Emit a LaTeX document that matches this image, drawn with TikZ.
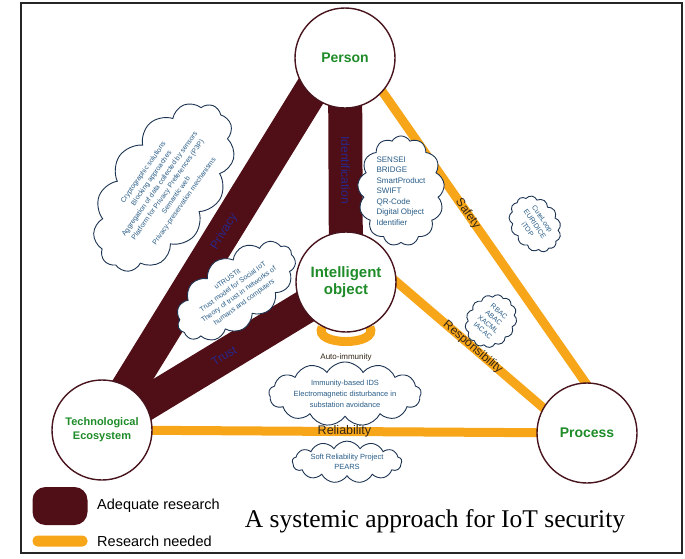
\documentclass[tikz,border=0pt]{standalone}
\usepackage{fontspec}
\setmainfont{Liberation Sans}
\newfontfamily\titlefont{Liberation Serif}
\usetikzlibrary{arrows.meta, positioning, shapes.symbols, backgrounds}
\definecolor{maroonbar}{RGB}{80,14,22}
\definecolor{orangebar}{RGB}{247,166,26}
\definecolor{rimcol}{RGB}{72,20,30}
\definecolor{nodegreen}{RGB}{30,140,40}
\definecolor{cloudline}{RGB}{28,52,82}
\definecolor{cloudtext}{RGB}{40,92,135}
\definecolor{labelblue}{RGB}{40,40,140}
\definecolor{labeldark}{RGB}{50,36,20}

\begin{document}
\begin{tikzpicture}[x=1pt, y=1pt]
    \tikzstyle{vertex} = [shape=circle, fill=white, draw=rimcol, line width=1.4pt, minimum size=100pt, inner sep=1pt, text=nodegreen, align=center];
    \tikzstyle{adequate} = [draw=maroonbar, line width=34pt];
    \tikzstyle{needed} = [draw=orangebar, line width=9pt];
    \tikzstyle{note} = [cloud, cloud puffs=13, cloud puff arc=120, cloud ignores aspect, draw=cloudline, line width=0.9pt, fill=white, text=cloudtext, align=center, inner sep=2pt];
    \tikzstyle{bluetag} = [text=labelblue, font=\fontsize{12}{12}\selectfont, sloped];
    \tikzstyle{darktag} = [text=labeldark, font=\fontsize{12}{12}\selectfont, sloped];

    \useasboundingbox (0,0) rectangle (685,-558);
    \draw[line width=1.5pt, black!85] (21,-3) rectangle (682,-553);

    \node[vertex, font=\fontsize{14}{14}\bfseries](person) at (345,-58) {Person};
    \node[vertex, font=\fontsize{15}{17}\bfseries](intel) at (346,-282) {Intelligent\\object};
    \node[vertex, font=\fontsize{11}{14}\bfseries](tech) at (102,-430) {Technological\\Ecosystem};
    \node[vertex, font=\fontsize{14}{14}\bfseries](proc) at (587,-433) {Process};

    \begin{pgfonlayer}{background}
        \draw[adequate, shorten >=-14pt] (tech.center) -- node[bluetag, pos=0.59]{Privacy} (person.-135);
        \draw[adequate] (person.center) -- node[bluetag, pos=0.5]{Identification} (intel.center);
        \draw[adequate] (tech.center) -- node[bluetag, pos=0.5]{Trust} (intel.center);
        \draw[needed, shorten <=-8pt, shorten >=-8pt] (person.-42) -- node[darktag, pos=0.42]{Safety} (proc.92);
        \draw[needed, shorten <=-8pt, shorten >=-8pt] (intel.0) -- node[darktag, pos=0.52]{Responsibility} (proc.150);
        \draw[needed] (tech.center) -- node[darktag, font=\fontsize{12.5}{12.5}\selectfont]{Reliability} (proc.center);
        \path (intel) edge[needed, out=-118, in=-62, looseness=1.2] node[below=4.5pt, text=labeldark, font=\fontsize{8}{8}\selectfont]{Auto-immunity} (intel);
    \end{pgfonlayer}

    \node[note, rotate=55, font=\fontsize{7}{10}\selectfont](privnote) at (164,-187) {Cryptographic solutions\\Blocking approaches\\Aggregation of data collected by sensors\\Platform for Privacy Preferences (P3P)\\Semantic web\\Privacy-preservation mechanisms};
    \node[note, align=left, font=\fontsize{8}{10.5}\selectfont](idnote) at (401,-191) {SENSEI\\BRIDGE\\SmartProduct\\SWIFT\\QR-Code\\Digital Object\\Identifier};
    \node[note, rotate=36, font=\fontsize{7}{9.5}\selectfont](trustnote) at (236,-291) {uTRUSTit\\Trust model for Social IoT\\Theory of trust in networks of\\humans and computers};
    \node[note, font=\fontsize{7.5}{11}\selectfont](immnote) at (345,-394) {Immunity-based IDS\\Electromagnetic disturbance in\\substation avoidance};
    \node[note, font=\fontsize{7.5}{10}\selectfont](relnote) at (347,-462) {Soft Reliability Project\\PEARS};
    \node[note, rotate=-55, inner sep=3pt, font=\fontsize{7}{9}\selectfont](safenote) at (535,-224) {CuteLoop\\EURIDICE\\iTOP};
    \node[note, rotate=-40, inner sep=3pt, font=\fontsize{7}{8.5}\selectfont](respnote) at (491,-321) {RBAC\\ABAC\\XACML\\IACAC};

    \node[fill=maroonbar, rounded corners=13pt, minimum width=55pt, minimum height=38pt](legadequate) at (60,-506) {};
    \node[fill=orangebar, rounded corners=5pt, minimum width=55pt, minimum height=11pt, inner sep=0pt](legneeded) at (60,-541) {};
    \node[right=6pt of legadequate, font=\fontsize{14.5}{15}\selectfont](legadequatetext) {Adequate research};
    \node[right=6pt of legneeded, font=\fontsize{14.5}{15}\selectfont](legneededtext) {Research needed};
    \node[font=\titlefont\fontsize{25.5}{26}\selectfont](title) at (435,-521) {A systemic approach for IoT security};
\end{tikzpicture}
\end{document}
